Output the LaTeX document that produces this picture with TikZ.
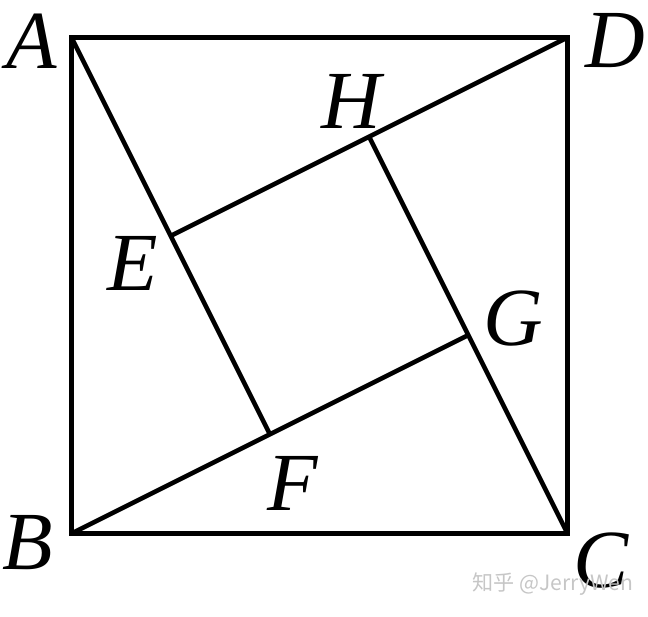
\documentclass[tikz,border=0pt]{standalone}
\usepackage{fontspec}
\setmainfont{Liberation Serif}
\newfontfamily\cjkwm{Noto Sans CJK SC}
\usepackage{tikz}

\begin{document}
\begin{tikzpicture}[x=1.984cm, y=1.984cm, line width=2.6pt,
    lbl/.style={inner sep=0pt, font=\fontsize{47}{50}\selectfont\itshape}]
    \useasboundingbox (-0.7208,-0.8317) rectangle (5.8115,5.378);

    \coordinate (A) at (0,5);
    \coordinate (B) at (0,0);
    \coordinate (C) at (5,0);
    \coordinate (D) at (5,5);
    \coordinate (E) at (1,3);
    \coordinate (F) at (2,1);
    \coordinate (G) at (4,2);
    \coordinate (H) at (3,4);

    % square and the four cuts
    \draw (A) -- (B) -- (C) -- (D) -- cycle;
    \draw (A) -- (F);
    \draw (B) -- (G);
    \draw (C) -- (H);
    \draw (D) -- (E);

    \node [lbl] (lA) at (-0.398,4.965) {A};
    \node [lbl] (lD) at (5.479,4.965) {D};
    \node [lbl] (lB) at (-0.439,-0.096) {B};
    \node [lbl] (lC) at (5.338,-0.277) {C};
    \node [lbl] (lH) at (2.818,4.360) {H};
    \node [lbl] (lE) at (0.620,2.727) {E};
    \node [lbl] (lG) at (4.451,2.172) {G};
    \node [lbl] (lF) at (2.233,0.509) {F};

    \node [gray!45, inner sep=0pt, font=\cjkwm\fontsize{12}{14}\selectfont] (wm) at (4.854,-0.509) {知乎 @JerryWen};
\end{tikzpicture}
\end{document}
